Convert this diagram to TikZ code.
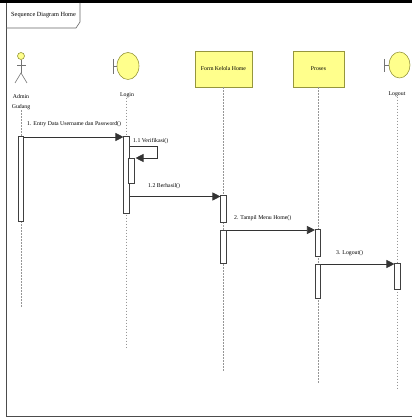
\documentclass[tikz,border=0pt]{standalone}
\usepackage{fontspec}
\setmainfont{Liberation Serif}
\usetikzlibrary{arrows.meta,calc,shapes.geometric}
\definecolor{uyel}{RGB}{255,255,140}
\definecolor{uolive}{RGB}{150,150,60}
\definecolor{lgray}{RGB}{150,150,150}
\tikzset{
  lbl/.style={font=\fontsize{5.8}{6}\selectfont, inner sep=0pt},
  headbox/.style={draw=uolive, fill=uyel, line width=0.6pt, minimum width=57pt, minimum height=36pt, inner sep=0pt, font=\fontsize{5.8}{6}\selectfont},
  bcircle/.style={ellipse, draw=uolive, fill=uyel, line width=0.6pt, inner sep=0pt, minimum width=22pt, minimum height=27pt},
  stick/.style={draw=black!55, line width=0.6pt},
  life/.style={draw=lgray, line width=0.8pt, dash pattern=on 1.5pt off 1.5pt},
  act/.style={draw=black!75, fill=white, line width=0.6pt, minimum width=5.5pt, inner sep=0pt, anchor=north},
  msg/.style={draw=black!80, line width=0.7pt, -{Triangle[length=8pt,width=8pt]}},
  frameline/.style={draw=black!70, line width=0.8pt}
}
\begin{document}
\begin{tikzpicture}[x=1pt,y=-1pt]
\useasboundingbox (0,0) rectangle (412,419);
% frame
\fill[black] (0,0) rectangle (412,3);
\draw[frameline] (6,3) -- (6,416) -- (412,416);
\draw[draw=black!60, line width=0.6pt] (6,28) -- (76,28) -- (80,22) -- (80,3);
\node[lbl, anchor=west, font=\fontsize{6.3}{7}\selectfont] (title) at (11,15) {Sequence Diagram Home};

% Admin Gudang actor
\node[circle, draw=uolive, fill=uyel, minimum size=7pt, inner sep=0pt, line width=0.6pt] (ahead) at (21,56) {};
\draw[stick] (ahead.south) -- (21,73) coordinate (ahip);
\draw[stick] (17,65) -- (26,65);
\draw[stick] (15,83) -- (ahip) -- (27,83);
\node[lbl, align=center, font=\fontsize{5.8}{10.5}\selectfont] (alab) at (21,102) {Admin\\Gudang};

% Login boundary
\node[bcircle] (login) at (128,66) {};
\draw[stick] (login.west) -- (113,66);
\draw[stick] (113,59) -- (113,74);
\node[lbl] (loginlab) at (127,95) {Login};

% Form Kelola Home
\node[headbox] (form) at (223.5,69) {Form Kelola Home};
% Proses
\node[headbox, minimum width=51pt] (proses) at (318.5,69) {Proses};

% Logout boundary
\node[bcircle, minimum width=21pt, minimum height=26pt] (logout) at (399.5,65) {};
\draw[stick] (logout.west) -- (384,65);
\draw[stick] (384,59) -- (384,72);
\node[lbl] (logoutlab) at (397,94) {Logout};

% lifeline ends
\coordinate (aend) at (21,307);
\coordinate (lend) at (126.5,347);
\coordinate (fend) at (223.5,372);
\coordinate (pend) at (318,384);
\coordinate (oend) at (397.5,390);
\draw[life] (alab.south -| aend) -- (aend);
\draw[life] (loginlab.south -| lend) -- (lend);
\draw[life] (form.south -| fend) -- (fend);
\draw[life] (proses.south -| pend) -- (pend);
\draw[life] (logoutlab.south -| oend) -- (oend);

% activations
\node[act, minimum height=85pt] (a1) at (21,136) {};
\node[act, minimum height=77pt] (l1) at (126.5,136) {};
\node[act, minimum height=25pt] (l2) at (131.5,158) {};
\node[act, minimum height=27pt] (f1) at (223.5,195) {};
\node[act, minimum height=33pt] (f2) at (223.5,230) {};
\node[act, minimum height=27pt] (p1) at (318,229) {};
\node[act, minimum height=34pt] (p2) at (318,264) {};
\node[act, minimum height=26pt] (o1) at (397.5,263) {};

% messages
\coordinate (m1s) at ($(a1.north east)+(0,1)$);
\draw[msg] (m1s) -- (m1s -| l1.west);
\node[lbl, anchor=south west] (m1) at (27,127) {1. Entry Data Username dan Password()};

\coordinate (sc1) at (157,146);
\draw[msg] (l1.east |- sc1) -- (sc1) -- (sc1 |- l2.north) -- ($(l2.north east)+(1,0)$);
\node[lbl, anchor=west] (m11) at (133,141) {1.1 Verifikasi()};

\coordinate (m12s) at ($(f1.north west)+(0,1.5)$);
\draw[msg] (m12s -| l1.east) -- (m12s);
\node[lbl, anchor=west] (m12) at (148,186) {1.2 Berhasil()};

\draw[msg] (f2.north east) -- (f2.north east -| p1.west);
\node[lbl, anchor=west] (m2) at (234,218) {2. Tampil Menu Home()};

\draw[msg] (p2.north east) -- (p2.north east -| o1.west);
\node[lbl, anchor=west] (m3) at (336,253) {3. Logout()};
\end{tikzpicture}
\end{document}
